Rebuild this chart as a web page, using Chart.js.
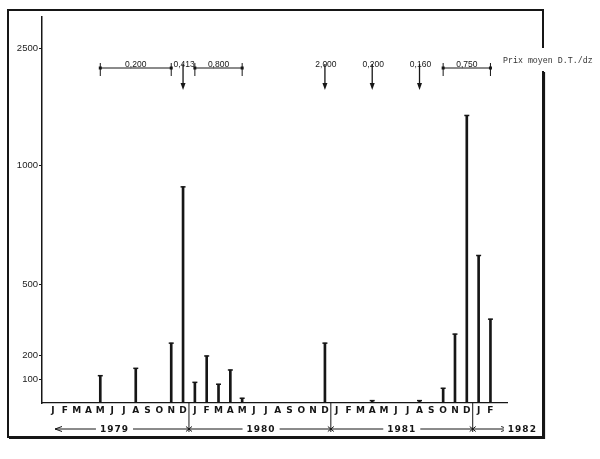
<!DOCTYPE html>
<html>
<head>
<meta charset="utf-8">
<script src="https://cdn.jsdelivr.net/npm/chart.js@4.4.1/dist/chart.umd.min.js"></script>
<style>
  html, body { margin: 0; padding: 0; background: #fff; }
  #wrap { position: relative; width: 600px; height: 459px; }
</style>
</head>
<body>
<div id="wrap"><canvas id="chart"></canvas></div>
<script>
// months J 1979 .. F 1982, one index per month
const monthLabels = [
    "J", "F", "M", "A", "M", "J", "J", "A", "S", "O", "N", "D",
    "J", "F", "M", "A", "M", "J", "J", "A", "S", "O", "N", "D",
    "J", "F", "M", "A", "M", "J", "J", "A", "S", "O", "N", "D",
    "J", "F",
];
const yTicks = [100, 200, 500, 1000, 2500];

// quantities per month (index into monthLabels)
const barMonths = [4, 7, 10, 11, 12, 13, 14, 15, 16, 23, 27, 31, 33, 34, 35, 36, 37];
const barValues = [115, 146, 252, 910, 87, 198, 79, 139, 20, 252, 10, 10, 62, 290, 1640, 621, 353];

// average prices, D.T./dz, over month ranges
const priceLabels = ["0,200", "0,413", "0,800", "2,000", "0,200", "0,160", "0,750"];
const priceFrom = [4, 11, 12, 23, 27, 31, 33];
const priceTo = [10, 11, 16, 23, 27, 31, 37];

const yearLabels = ["1979", "1980", "1981", "1982"];
const yearCenters = [5.2, 17.6, 29.5, 39.7];
const yearBreaks = [11.5, 23.5, 35.5];

const ink = "#161616";

// y axis is linear up to 1000, then compressed
const BREAK = 1000;
const SQUEEZE = 0.329;
const squash = (v) => (v <= BREAK ? v : BREAK + (v - BREAK) * SQUEEZE);
const unsquash = (t) => (t <= BREAK ? t : BREAK + (t - BREAK) / SQUEEZE);

class BrokenScale extends Chart.LinearScale {
    static id = "broken";
    static defaults = Chart.LinearScale.defaults;

    buildTicks() {
        return yTicks.map((value) => ({ value }));
    }

    getPixelForValue(value) {
        const a = squash(this.min);
        const b = squash(this.max);
        return this.getPixelForDecimal((squash(value) - a) / (b - a));
    }

    getValueForPixel(pixel) {
        const a = squash(this.min);
        const b = squash(this.max);
        return unsquash(a + this.getDecimalForPixel(pixel) * (b - a));
    }
}
Chart.register(BrokenScale);

const decorations = {
    id: "decorations",
    afterDraw(chart) {
        const { ctx } = chart;
        const xs = chart.scales.x;
        const X = (i) => xs.getPixelForValue(i);
        const base = chart.chartArea.bottom;
        ctx.save();
        ctx.strokeStyle = ink;
        ctx.fillStyle = ink;

        // frame, open on the right where the unit label sits
        ctx.lineWidth = 2;
        ctx.beginPath();
        ctx.moveTo(543, 48);
        ctx.lineTo(543, 10);
        ctx.lineTo(8, 10);
        ctx.lineTo(8, 437);
        ctx.lineTo(543, 437);
        ctx.lineTo(543, 71);
        ctx.stroke();
        ctx.lineWidth = 1.2;
        ctx.beginPath();
        ctx.moveTo(9, 438.5);
        ctx.lineTo(544.5, 438.5);
        ctx.lineTo(544.5, 72);
        ctx.stroke();

        // price annotations
        ctx.font = '8.5px "Liberation Sans"';
        ctx.textAlign = "center";
        ctx.textBaseline = "alphabetic";
        ctx.lineWidth = 1;
        for (let k = 0; k < priceLabels.length; k++) {
            const x1 = X(priceFrom[k]);
            const x2 = X(priceTo[k]);
            if (priceFrom[k] === priceTo[k]) {
                ctx.fillText(priceLabels[k], x1 + 1, 67);
                ctx.lineWidth = 1.3;
                ctx.beginPath();
                ctx.moveTo(x1, 64);
                ctx.lineTo(x1, 85);
                ctx.stroke();
                ctx.beginPath();
                ctx.moveTo(x1, 90);
                ctx.lineTo(x1 - 2.5, 83);
                ctx.lineTo(x1 + 2.5, 83);
                ctx.closePath();
                ctx.fill();
                ctx.lineWidth = 1;
            } else {
                ctx.beginPath();
                ctx.moveTo(x1, 68);
                ctx.lineTo(x2, 68);
                ctx.moveTo(x1, 63);
                ctx.lineTo(x1, 76);
                ctx.moveTo(x2, 63);
                ctx.lineTo(x2, 76);
                ctx.stroke();
                ctx.fillRect(x1 - 1.5, 66.5, 3, 3);
                ctx.fillRect(x2 - 1.5, 66.5, 3, 3);
                ctx.fillText(priceLabels[k], (x1 + x2) / 2, 66.5);
            }
        }

        // year band under the months
        const yy = 429;
        const start = X(0.17);
        const end = X(38.5);
        ctx.lineWidth = 1;
        ctx.beginPath();
        ctx.moveTo(start, yy);
        ctx.lineTo(end, yy);
        ctx.moveTo(start + 7, yy - 2.5);
        ctx.lineTo(start, yy);
        ctx.lineTo(start + 7, yy + 2.5);
        ctx.moveTo(end - 7, yy - 2.5);
        ctx.lineTo(end, yy);
        ctx.lineTo(end - 7, yy + 2.5);
        ctx.stroke();
        for (const b of yearBreaks) {
            const bx = X(b);
            ctx.beginPath();
            ctx.moveTo(bx, base);
            ctx.lineTo(bx, yy + 3);
            ctx.moveTo(bx - 3, yy - 2.5);
            ctx.lineTo(bx + 3, yy + 2.5);
            ctx.moveTo(bx + 3, yy - 2.5);
            ctx.lineTo(bx - 3, yy + 2.5);
            ctx.stroke();
        }
        ctx.font = 'bold 9px "DejaVu Sans"';
        ctx.letterSpacing = "1px";
        ctx.textBaseline = "middle";
        for (let k = 0; k < yearLabels.length; k++) {
            const cx = X(yearCenters[k]);
            const w = ctx.measureText(yearLabels[k]).width;
            ctx.fillStyle = "#fff";
            ctx.fillRect(cx - w / 2 - 4, yy - 5, w + 8, 10);
            ctx.fillStyle = ink;
            ctx.fillText(yearLabels[k], cx, yy + 0.5);
        }
        ctx.letterSpacing = "0px";

        // unit label
        ctx.font = '8.3px "Liberation Mono"';
        ctx.textAlign = "left";
        ctx.fillStyle = "#333";
        ctx.fillText("Prix moyen D.T./dz", 503, 61);
        ctx.restore();
    },
};

const barData = barMonths.map((m, i) => ({ x: m, y: barValues[i] }));

new Chart(document.getElementById("chart"), {
    type: "bar",
    data: {
        datasets: [
            {
                data: barData,
                backgroundColor: ink,
                barThickness: 2,
                order: 2,
            },
            {
                type: "scatter",
                data: barData,
                pointStyle: "line",
                radius: 2.5,
                borderWidth: 1.5,
                borderColor: ink,
                order: 1,
            },
        ],
    },
    options: {
        responsive: true,
        maintainAspectRatio: false,
        animation: false,
        layout: { padding: { top: 17, right: 93, bottom: 0, left: 0 } },
        plugins: { legend: { display: false }, tooltip: { enabled: false } },
        scales: {
            x: {
                type: "linear",
                offset: false,
                min: -0.93,
                max: 38.4,
                grid: { display: false, drawTicks: false, offset: false },
                border: { display: true, color: ink, width: 1.3 },
                afterBuildTicks: (scale) => {
                    scale.ticks = monthLabels.map((_, i) => ({ value: i }));
                },
                afterFit: (scale) => {
                    scale.height = 56;
                },
                ticks: {
                    autoSkip: false,
                    maxRotation: 0,
                    padding: 2,
                    color: ink,
                    font: { family: "DejaVu Sans", size: 9, weight: "bold" },
                    callback: (v) => monthLabels[v] ?? "",
                },
            },
            y: {
                type: "broken",
                min: 0,
                max: 2900,
                grid: {
                    drawOnChartArea: false,
                    drawTicks: true,
                    tickLength: 3,
                    color: ink,
                },
                border: { display: true, color: ink, width: 1.5 },
                afterFit: (scale) => {
                    scale.width = 42;
                },
                ticks: {
                    padding: 1,
                    color: "#222",
                    font: { family: "Liberation Sans", size: 9.5 },
                    callback: (v) => String(v),
                },
            },
        },
    },
    plugins: [decorations],
});
</script>
</body>
</html>
